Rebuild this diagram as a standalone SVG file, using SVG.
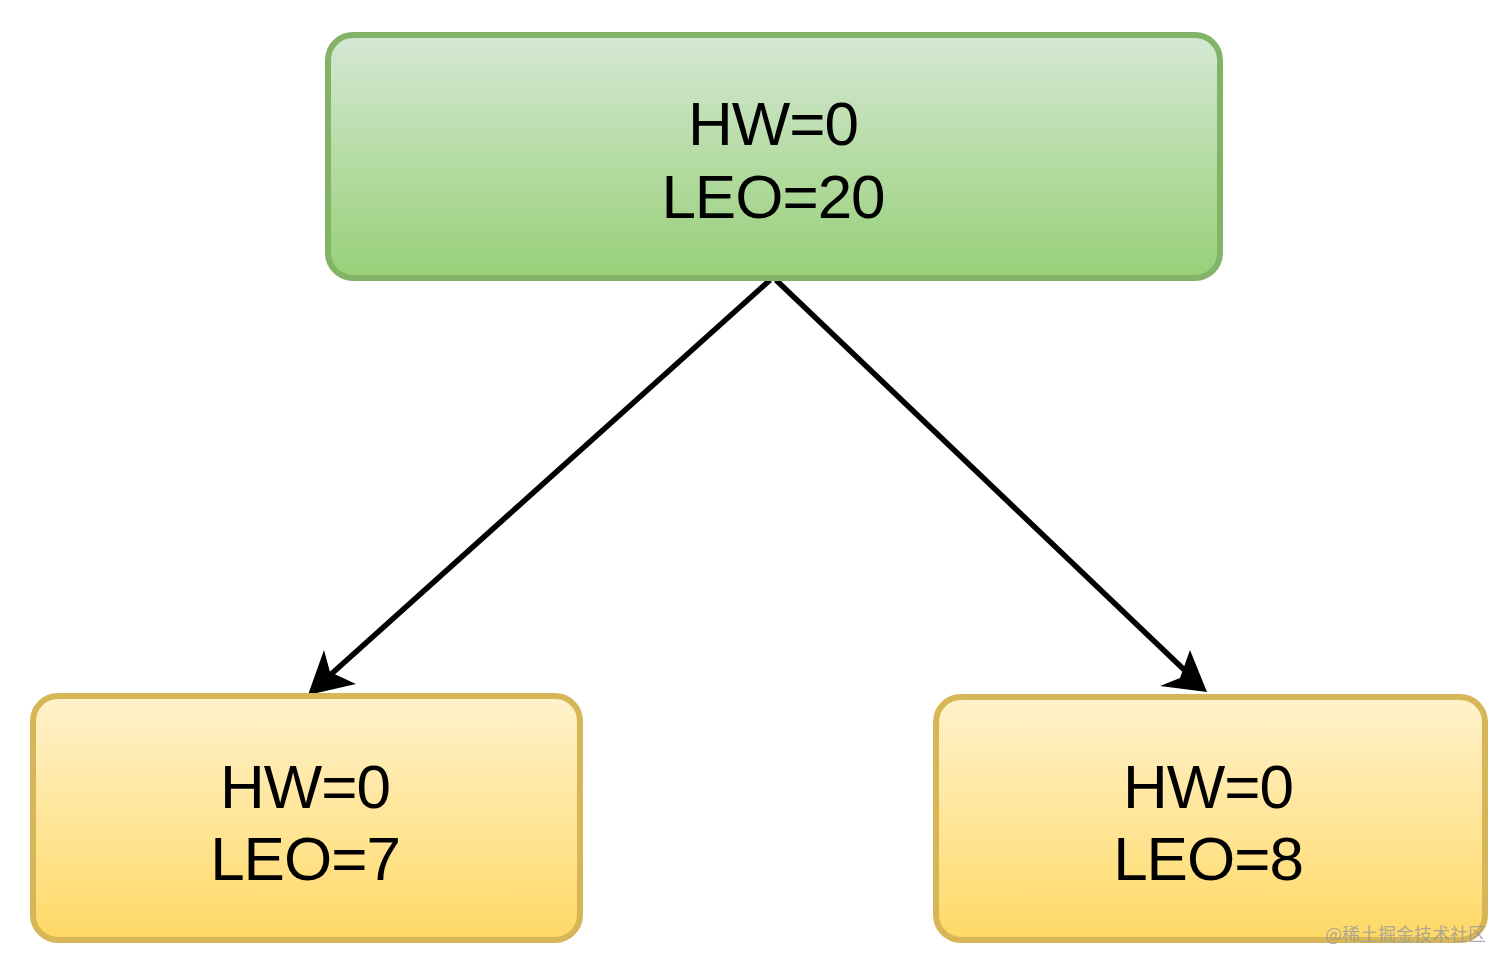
<svg xmlns="http://www.w3.org/2000/svg" width="1512" height="970" viewBox="0 0 1512 970">
<style>
.t{font-family:"Liberation Sans",Arial,sans-serif;font-size:62px;fill:#000;text-anchor:middle;letter-spacing:-1px}
.g{stroke:#82b366;stroke-width:6;fill:url(#gg)}
.y{stroke:#d6b656;stroke-width:6;fill:url(#yg)}
.c{stroke:#000;stroke-width:5.5;fill:none}
.h{fill:#000}
</style>
<defs>
<linearGradient id="gg" x1="0" y1="0" x2="0" y2="1"><stop offset="0" stop-color="#d5e8d4"/><stop offset="1" stop-color="#97d077"/></linearGradient>
<linearGradient id="yg" x1="0" y1="0" x2="0" y2="1"><stop offset="0" stop-color="#fff2cc"/><stop offset="1" stop-color="#ffd966"/></linearGradient>
</defs>
<rect width="1512" height="970" fill="#fff"/>
<g id="connectors">
<line class="c" x1="770" y1="280" x2="318" y2="686"/>
<path class="h" d="M308,695 L324,650 L330,672 L356,684 Z"/>
<line class="c" x1="776" y1="280" x2="1198" y2="683"/>
<path class="h" d="M1207,692 L1160,686 L1180,678 L1190,650 Z"/>
</g>
<g id="top">
<rect class="g" x="328" y="35" width="892" height="243" rx="25"/>
<text class="t" x="773" y="145">HW=0</text>
<text class="t" x="773" y="218">LEO=20</text>
</g>
<g id="left">
<rect class="y" x="33" y="696" width="547" height="244" rx="25"/>
<text class="t" x="305" y="808">HW=0</text>
<text class="t" x="305" y="880">LEO=7</text>
</g>
<g id="right">
<rect class="y" x="936" y="697" width="549" height="243" rx="25"/>
<text class="t" x="1208" y="808">HW=0</text>
<text class="t" x="1208" y="880">LEO=8</text>
</g>
<text x="1486" y="941" font-family="'Noto Sans CJK SC',sans-serif" font-size="18" fill="#999" fill-opacity="0.8" text-anchor="end">@稀土掘金技术社区</text>
</svg>
